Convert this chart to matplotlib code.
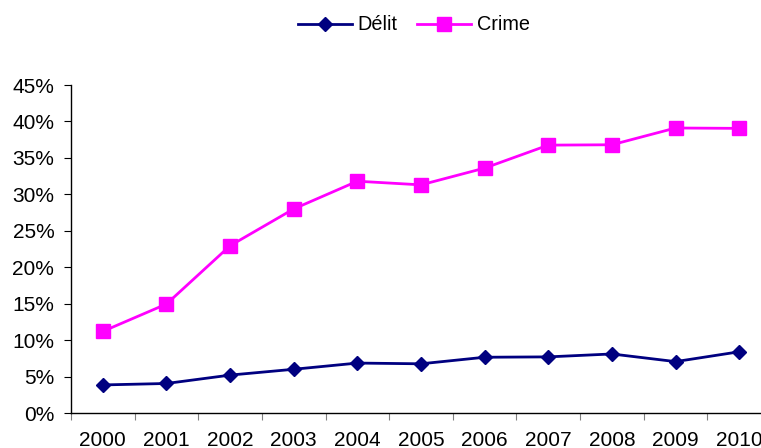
import numpy as np
import matplotlib.pyplot as plt
from matplotlib.ticker import FixedLocator, PercentFormatter

plt.rcParams['font.family'] = ['Liberation Sans', 'DejaVu Sans']

years = ['2000', '2001', '2002', '2003', '2004', '2005',
         '2006', '2007', '2008', '2009', '2010']
delit = [3.85, 4.05, 5.2, 6.0, 6.85, 6.75, 7.65, 7.7, 8.1, 7.05, 8.4]
crime = [11.2, 14.95, 22.95, 28.0, 31.8, 31.3, 33.6, 36.75, 36.8, 39.1, 39.05]

fig = plt.figure(figsize=(7.61, 4.48), dpi=100)
ax = fig.add_axes([71/761, 35/448, 700/761, 328/448])

x = np.arange(len(years))
l1, = ax.plot(x, delit, color='#000080', lw=2, marker='D', ms=7.5,
              label='Délit', clip_on=False, zorder=3)
l2, = ax.plot(x, crime, color='#FF00FF', lw=2, marker='s', ms=10.5,
              label='Crime', clip_on=False, zorder=3)

ax.set_xlim(-0.5, len(years) - 0.5)
ax.set_ylim(0, 45)
ax.set_yticks(np.arange(0, 46, 5))
ax.yaxis.set_major_formatter(PercentFormatter(decimals=0))

# tick marks between categories, labels at centres
ax.xaxis.set_major_locator(FixedLocator(np.arange(-0.5, len(years), 1)))
ax.xaxis.set_major_formatter(plt.NullFormatter())
ax.xaxis.set_minor_locator(FixedLocator(x))
ax.set_xticklabels(years, minor=True)
ax.tick_params(axis='x', which='minor', length=0, pad=13, labelsize=15)
ax.tick_params(axis='x', which='major', length=5, color='#808080', direction='out')
ax.tick_params(axis='y', length=5, direction='out', labelsize=15, pad=7)

for s in ['top', 'right']:
    ax.spines[s].set_visible(False)
ax.spines['left'].set_linewidth(1)
ax.spines['bottom'].set_linewidth(1)

fig.legend(handles=[l1, l2], loc='center', bbox_to_anchor=(414/761, 1 - 25/448),
           ncol=2, frameon=False, fontsize=14.3, handlelength=2.7,
           columnspacing=1.0, handletextpad=0.3)

fig.savefig('out.png', dpi=100)
